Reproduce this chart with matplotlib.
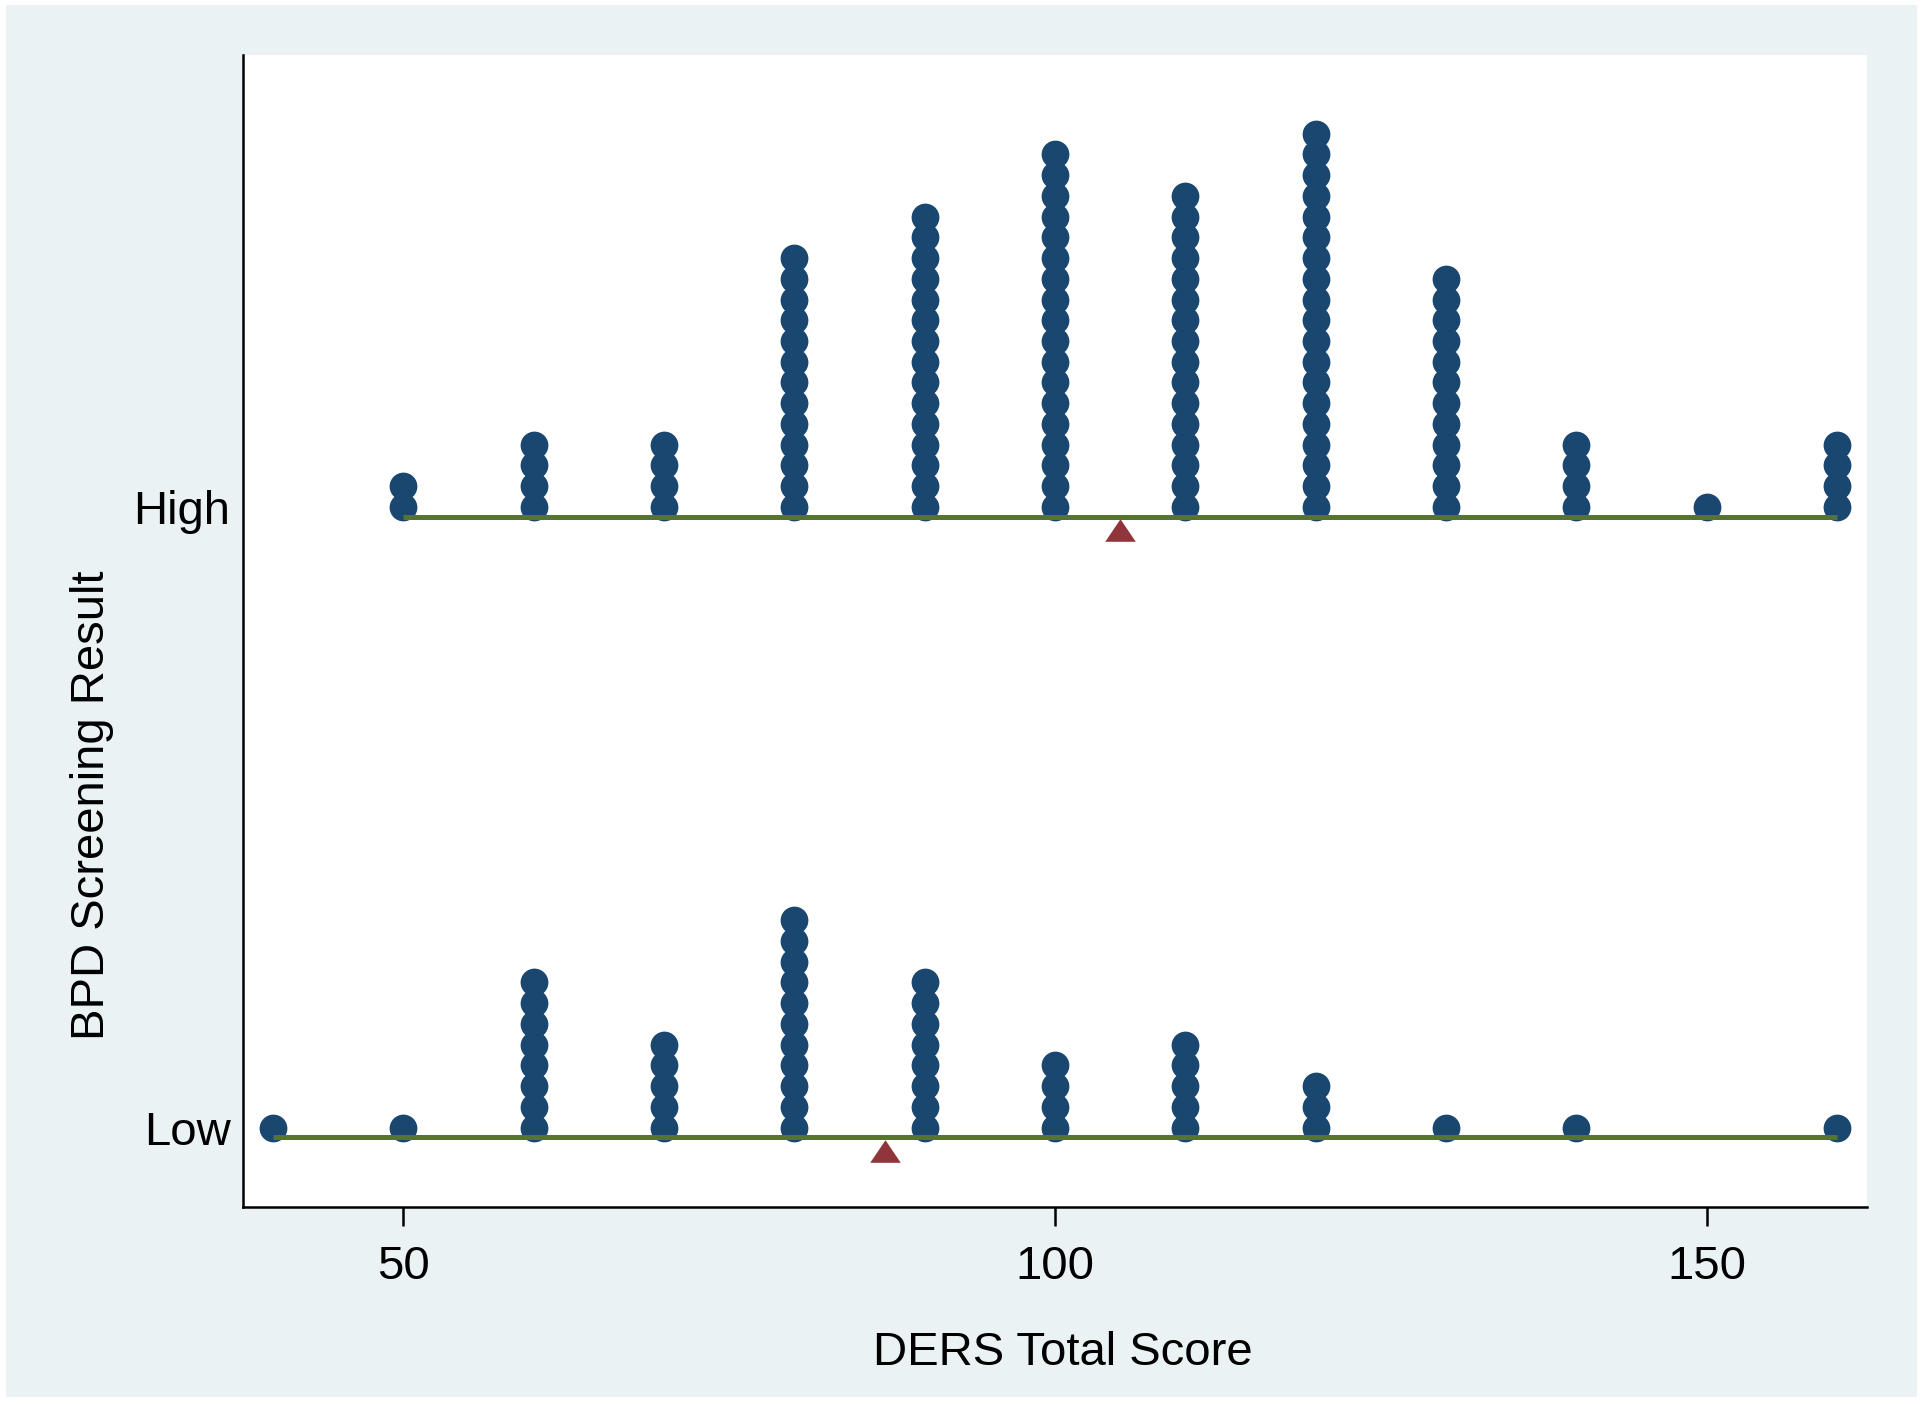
import numpy as np
import matplotlib
matplotlib.use("Agg")
import matplotlib.pyplot as plt
from matplotlib.patches import Rectangle

# DERS total score bins and number of people in each bin
scores = [40, 50, 60, 70, 80, 90, 100, 110, 120, 130, 140, 150, 160]
high_counts = [0, 2, 4, 4, 13, 15, 18, 16, 19, 12, 4, 1, 4]
low_counts = [1, 1, 8, 5, 11, 8, 4, 5, 3, 1, 1, 0, 1]
groups = ["Low", "High"]

NAVY = "#1a476f"
GREEN = "#55752f"
MAROON = "#90353b"
BG = "#eaf2f3"

plt.rcParams['font.family'] = ['Liberation Sans', 'DejaVu Sans']

STEP = 0.0334      # vertical distance between stacked dots (data units)
LINE_OFF = 0.016   # range line sits a bit below the stack
MEAN_OFF = 0.038   # mean marker below the line


def draw_group(ax, ypos, counts):
    xs, ys = [], []
    for s, c in zip(scores, counts):
        for k in range(c):
            xs.append(s)
            ys.append(ypos + k * STEP)
    ax.plot(xs, ys, linestyle='none', marker='o', markersize=20,
            color=NAVY, markeredgewidth=0, zorder=2)
    used = [s for s, c in zip(scores, counts) if c > 0]
    ax.plot([min(used), max(used)], [ypos - LINE_OFF] * 2, color=GREEN,
            linewidth=3.6, solid_capstyle='butt', zorder=3)
    mean = np.average(scores, weights=counts)
    tri = [(-1, -0.74), (1, -0.74), (0, 0.74)]
    ax.plot([mean], [ypos - MEAN_OFF], linestyle='none', marker=tri,
            markersize=22, color=MAROON, markeredgewidth=0, zorder=4)


def main():
    fig = plt.figure(figsize=(19.23, 14.04), dpi=100, facecolor='white')
    bg = Rectangle((6 / 1923, 7 / 1404), 1911 / 1923, 1392 / 1404,
                   transform=fig.transFigure, facecolor=BG,
                   edgecolor='none', zorder=-10)
    fig.add_artist(bg)
    ax = fig.add_axes([243 / 1923, 197 / 1404, 1624 / 1923, 1152 / 1404])
    ax.set_facecolor('white')

    draw_group(ax, 1, high_counts)
    draw_group(ax, 0, low_counts)

    ax.set_xlim(37.7, 162.3)
    ax.set_ylim(-0.128, 1.728)
    ax.set_xticks([50, 100, 150])
    ax.set_yticks([0, 1])
    ax.set_yticklabels(groups)

    for side in ['top', 'right']:
        ax.spines[side].set_visible(False)
    for side in ['left', 'bottom']:
        ax.spines[side].set_linewidth(1.8)
        ax.spines[side].set_color('black')

    ax.tick_params(axis='x', length=13.7, width=1.8, pad=14, labelsize=34)
    ax.tick_params(axis='y', length=0, pad=9, labelsize=34)

    ax.set_xlabel('DERS Total Score', fontsize=34)
    ax.set_ylabel('BPD Screening Result', fontsize=34)
    ax.xaxis.set_label_coords((1063 - 243) / 1624, -(1353 - 1207) / 1152)
    ax.yaxis.set_label_coords(-(243 - 92) / 1624, (1207 - 805) / 1152)
    ax.xaxis.label.set_va('center')
    ax.yaxis.label.set_va('center')

    fig.savefig('out.png', dpi=100, facecolor=fig.get_facecolor())


if __name__ == '__main__':
    main()
